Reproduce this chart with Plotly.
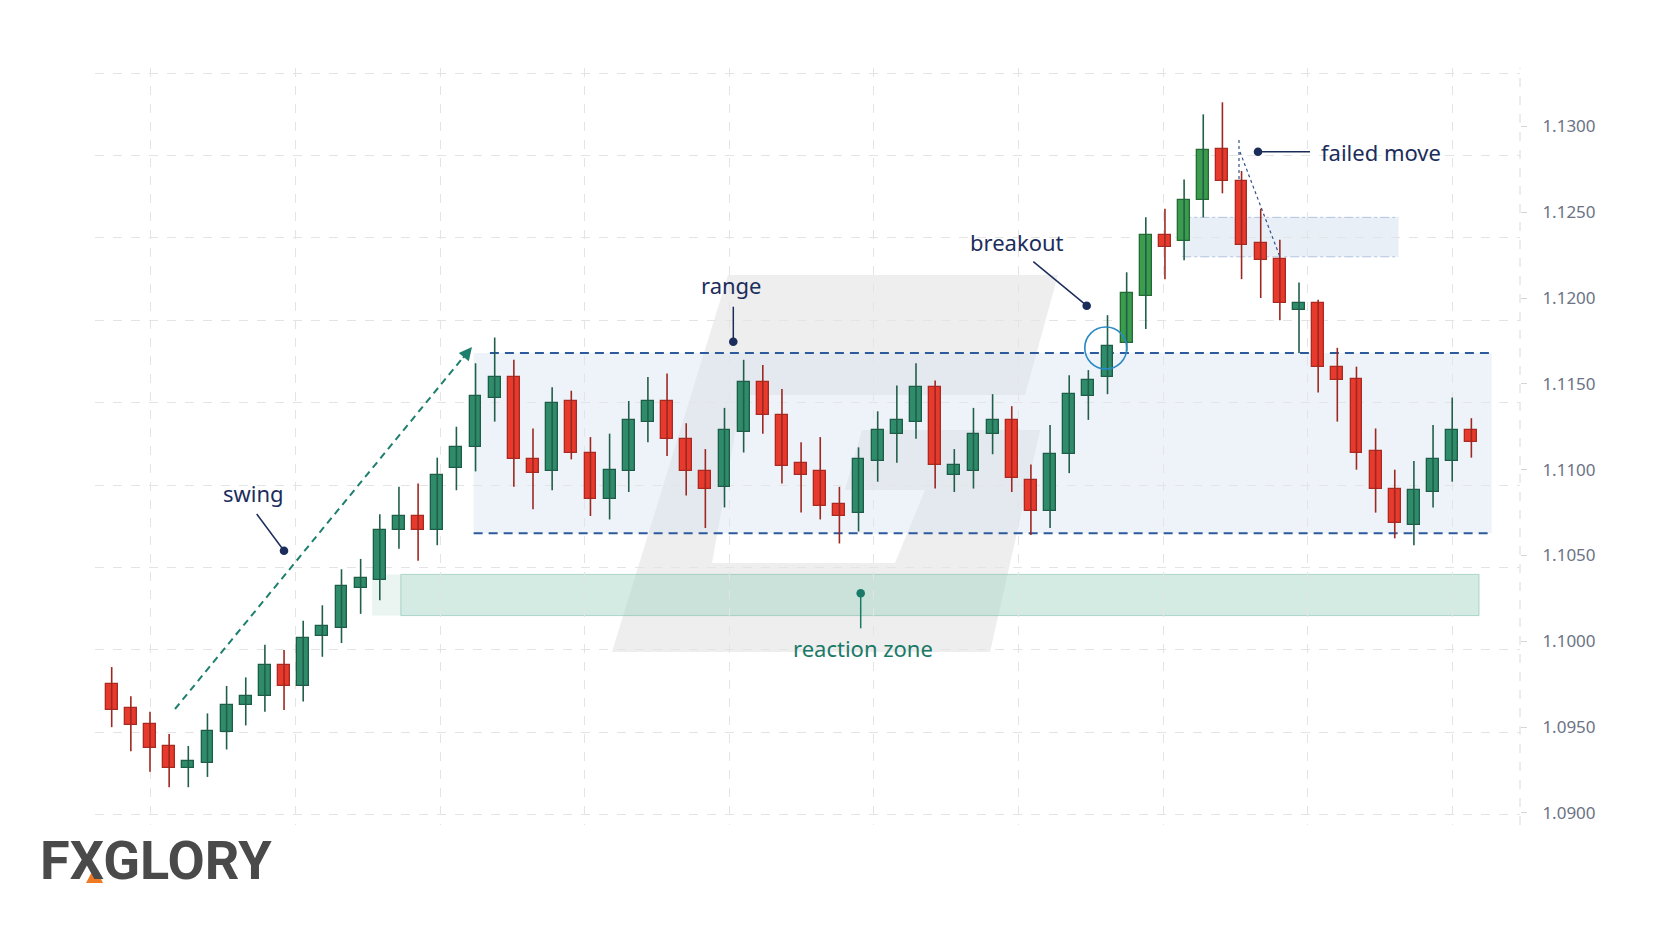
import plotly.graph_objects as go

# ---------------- data ----------------
opens = [1.0975, 1.0961, 1.0952, 1.0939, 1.0926, 1.0929, 1.0947, 1.0963, 1.0968, 1.0986,
         1.0974, 1.1003, 1.1008, 1.1031, 1.1036, 1.1065, 1.1073, 1.1065, 1.1101, 1.1113,
         1.1142, 1.1154, 1.1106, 1.1099, 1.1140, 1.1110, 1.1083, 1.1099, 1.1128, 1.1140,
         1.1118, 1.1099, 1.1090, 1.1122, 1.1151, 1.1132, 1.1104, 1.1099, 1.1080, 1.1075,
         1.1105, 1.1121, 1.1128, 1.1148, 1.1097, 1.1099, 1.1121, 1.1129, 1.1094, 1.1076,
         1.1109, 1.1143, 1.1154, 1.1174, 1.1201, 1.1237, 1.1233, 1.1257, 1.1287, 1.1268,
         1.1232, 1.1223, 1.1193, 1.1197, 1.1160, 1.1153, 1.1111, 1.1089, 1.1068, 1.1087,
         1.1105, 1.1123]
highs = [1.0985, 1.0968, 1.0959, 1.0946, 1.0939, 1.0958, 1.0974, 1.0979, 1.0998, 1.0995,
         1.1012, 1.1021, 1.1042, 1.1048, 1.1074, 1.1090, 1.1092, 1.1107, 1.1125, 1.1162,
         1.1177, 1.1164, 1.1124, 1.1148, 1.1146, 1.1119, 1.1121, 1.1140, 1.1154, 1.1156,
         1.1127, 1.1112, 1.1136, 1.1164, 1.1161, 1.1147, 1.1116, 1.1119, 1.1090, 1.1113,
         1.1134, 1.1149, 1.1162, 1.1152, 1.1112, 1.1136, 1.1144, 1.1137, 1.1103, 1.1126,
         1.1155, 1.1158, 1.1190, 1.1215, 1.1247, 1.1252, 1.1269, 1.1307, 1.1314, 1.1274,
         1.1252, 1.1234, 1.1209, 1.1199, 1.1171, 1.1160, 1.1124, 1.1100, 1.1105, 1.1126,
         1.1142, 1.1130]
lows = [1.0950, 1.0936, 1.0924, 1.0915, 1.0915, 1.0921, 1.0937, 1.0951, 1.0959, 1.0960,
        1.0965, 1.0991, 1.0999, 1.1016, 1.1024, 1.1054, 1.1047, 1.1056, 1.1088, 1.1099,
        1.1128, 1.1090, 1.1077, 1.1088, 1.1106, 1.1073, 1.1071, 1.1087, 1.1116, 1.1108,
        1.1085, 1.1066, 1.1078, 1.1110, 1.1121, 1.1092, 1.1075, 1.1071, 1.1057, 1.1064,
        1.1093, 1.1104, 1.1118, 1.1089, 1.1087, 1.1089, 1.1109, 1.1087, 1.1062, 1.1066,
        1.1098, 1.1129, 1.1144, 1.1169, 1.1182, 1.1211, 1.1222, 1.1247, 1.1261, 1.1211,
        1.1200, 1.1187, 1.1168, 1.1145, 1.1128, 1.1100, 1.1075, 1.1060, 1.1056, 1.1078,
        1.1093, 1.1107]
closes = [1.0960, 1.0951, 1.0938, 1.0926, 1.0930, 1.0948, 1.0963, 1.0968, 1.0986, 1.0974,
          1.1002, 1.1009, 1.1032, 1.1037, 1.1065, 1.1073, 1.1065, 1.1097, 1.1113, 1.1143,
          1.1154, 1.1106, 1.1098, 1.1139, 1.1110, 1.1083, 1.1100, 1.1129, 1.1140, 1.1118,
          1.1099, 1.1089, 1.1123, 1.1151, 1.1132, 1.1102, 1.1097, 1.1079, 1.1073, 1.1106,
          1.1123, 1.1129, 1.1148, 1.1103, 1.1103, 1.1121, 1.1129, 1.1095, 1.1076, 1.1109,
          1.1144, 1.1152, 1.1172, 1.1203, 1.1237, 1.1230, 1.1257, 1.1286, 1.1268, 1.1231,
          1.1222, 1.1197, 1.1197, 1.1160, 1.1152, 1.1110, 1.1089, 1.1069, 1.1088, 1.1106,
          1.1123, 1.1116]

y_tick_values = [1.0900, 1.0950, 1.1000, 1.1050, 1.1100, 1.1150, 1.1200, 1.1250, 1.1300]
y_tick_labels = ["1.0900", "1.0950", "1.1000", "1.1050", "1.1100", "1.1150", "1.1200", "1.1250", "1.1300"]

RANGE_HIGH, RANGE_LOW = 1.1168, 1.1063
REACTION_HIGH, REACTION_LOW = 1.1039, 1.1015
FAILED_HIGH, FAILED_LOW = 1.1247, 1.1224
breakout_candles = [53, 54, 55, 56, 57]   # brighter green bars

label_texts = ["swing", "range", "breakout", "failed move", "reaction zone"]
logo_text = "FXGLORY"

# ---------------- layout geometry ----------------
PAGE_OFF = 8                      # default body margin of the html page
W, H = 1664 - 2 * PAGE_OFF, 928 - 2 * PAGE_OFF
ML, MR, MT, MB = 87, 136, 60, 95
PW, PH = W - ML - MR, H - MT - MB
X_RANGE = [-0.872, 73.54]
Y_RANGE = [1.0893, 1.1334]


def xp(px):
    """page pixel x -> paper coordinate"""
    return (px - PAGE_OFF - ML) / PW


def yp(py):
    """page pixel y -> paper coordinate"""
    return (H - MB - (py - PAGE_OFF)) / PH


n = len(opens)
idx = list(range(n))

GREEN, GREEN_LINE, GREEN_WICK = "#2f8c6b", "#1d5c46", "#215f4a"
LIME, LIME_LINE = "#3a9c4c", "#236b32"
RED, RED_LINE, RED_WICK = "#e8392d", "#a92a21", "#9c2820"

fig = go.Figure()

# wicks
for up, col in ((True, GREEN_WICK), (False, RED_WICK)):
    xs, ys = [], []
    for i in idx:
        if (closes[i] >= opens[i]) == up:
            xs += [i, i, None]
            ys += [lows[i], highs[i], None]
    fig.add_trace(go.Scatter(x=xs, y=ys, mode="lines", line=dict(color=col, width=1.6),
                             hoverinfo="skip", showlegend=False))

# bodies
base, height, fills, lines = [], [], [], []
for i in idx:
    lo, hi = min(opens[i], closes[i]), max(opens[i], closes[i])
    base.append(lo)
    height.append(max(hi - lo, 0.00005))
    if closes[i] >= opens[i]:
        if i in breakout_candles:
            fills.append(LIME); lines.append(LIME_LINE)
        else:
            fills.append(GREEN); lines.append(GREEN_LINE)
    else:
        fills.append(RED); lines.append(RED_LINE)
fig.add_trace(go.Bar(x=idx, y=height, base=base, width=0.62,
                     marker=dict(color=fills, line=dict(color=lines, width=1.3)),
                     hoverinfo="skip", showlegend=False))

shapes = []

# mask the grid at the far left (grid starts a little inside the plot)
shapes.append(dict(type="rect", xref="paper", yref="paper", x0=0, x1=xp(120), y0=0, y1=1,
                   fillcolor="white", line=dict(width=0), layer="between"))

# watermark (large faint G)
wm = [(728, 275), (1058, 275), (1025, 395), (742, 395), (712, 563), (895, 563), (925, 490),
      (845, 490), (862, 430), (1040, 430), (990, 652), (612, 652)]
path = "M " + " L ".join(f"{xp(a):.4f},{yp(b):.4f}" for a, b in wm) + " Z"
shapes.append(dict(type="path", path=path, xref="paper", yref="paper", layer="below",
                   fillcolor="rgba(200,200,200,0.3)", line=dict(width=0)))

# range band
shapes.append(dict(type="rect", xref="x", yref="y", x0=18.9, x1=72.06, y0=RANGE_LOW, y1=RANGE_HIGH,
                   fillcolor="rgba(212,226,243,0.4)", line=dict(width=0), layer="below"))
shapes.append(dict(type="line", xref="x", yref="y", x0=19.75, x1=72.06, y0=RANGE_HIGH, y1=RANGE_HIGH,
                   line=dict(color="#2c5a9c", width=2, dash="9px,6px"), layer="between"))
shapes.append(dict(type="line", xref="x", yref="y", x0=18.9, x1=72.06, y0=RANGE_LOW, y1=RANGE_LOW,
                   line=dict(color="#2c5a9c", width=2, dash="9px,6px"), layer="between"))

# reaction zone
shapes.append(dict(type="rect", xref="x", yref="y", x0=13.6, x1=15.1, y0=REACTION_LOW, y1=REACTION_HIGH,
                   fillcolor="rgba(170,215,203,0.25)", line=dict(width=0), layer="below"))
shapes.append(dict(type="rect", xref="x", yref="y", x0=15.1, x1=71.4, y0=REACTION_LOW, y1=REACTION_HIGH,
                   fillcolor="rgba(160,210,196,0.45)", line=dict(color="rgba(120,188,170,0.55)", width=1),
                   layer="below"))

# failed move band
shapes.append(dict(type="rect", xref="x", yref="y", x0=55.9, x1=67.2, y0=FAILED_LOW, y1=FAILED_HIGH,
                   fillcolor="rgba(200,214,234,0.4)", line=dict(width=0), layer="below"))
for yy in (FAILED_LOW, FAILED_HIGH):
    shapes.append(dict(type="line", xref="x", yref="y", x0=55.9, x1=67.2, y0=yy, y1=yy,
                       line=dict(color="rgba(100,135,190,0.45)", width=1, dash="dashdot"), layer="below"))

# right axis dashed line
shapes.append(dict(type="line", xref="paper", yref="paper", x0=1, x1=1, y0=0, y1=1,
                   line=dict(color="#dadada", width=1, dash="dash"), layer="below"))

# swing arrow (dashed)
sx0, sy0, sx1, sy1 = 175, 709, 470, 349
shapes.append(dict(type="line", xref="paper", yref="paper", x0=xp(sx0), y0=yp(sy0), x1=xp(sx1), y1=yp(sy1),
                   line=dict(color="#1f7f6e", width=2, dash="7px,5px")))

# dotted "failed move" guides
shapes.append(dict(type="line", xref="paper", yref="paper", x0=xp(1239), x1=xp(1239), y0=yp(140), y1=yp(180),
                   line=dict(color="#34508a", width=1.2, dash="dot")))
shapes.append(dict(type="line", xref="paper", yref="paper", x0=xp(1240), x1=xp(1280), y0=yp(152), y1=yp(257),
                   line=dict(color="#34508a", width=1.2, dash="dot")))

# breakout circle
cx, cy, cr = 1105.8, 348, 21
shapes.append(dict(type="circle", xref="paper", yref="paper", x0=xp(cx - cr), x1=xp(cx + cr),
                   y0=yp(cy + cr), y1=yp(cy - cr), line=dict(color="#2a8ac4", width=1.6)))

# pointer lines and dots
NAVY, TEAL = "#1b2d5b", "#1a7a67"
pointers = [((256.7, 514), (284, 550.7), NAVY),
            ((733.3, 306.7), (733.3, 341.7), NAVY),
            ((1033.3, 261.7), (1086.7, 305.7), NAVY),
            ((1310, 151.7), (1258, 151.7), NAVY),
            ((860.7, 628.3), (860.7, 593.3), TEAL)]
for (a, b), (c, d), col in pointers:
    shapes.append(dict(type="line", xref="paper", yref="paper", x0=xp(a), y0=yp(b), x1=xp(c), y1=yp(d),
                       line=dict(color=col, width=1.5)))
    r = 4.3
    shapes.append(dict(type="circle", xref="paper", yref="paper", x0=xp(c - r), x1=xp(c + r),
                       y0=yp(d + r), y1=yp(d - r), fillcolor=col, line=dict(color=col, width=0)))

# logo accent
shapes.append(dict(type="path", xref="paper", yref="paper",
                   path=f"M {xp(86):.4f},{yp(883):.4f} L {xp(95):.4f},{yp(866):.4f} L {xp(103):.4f},{yp(883):.4f} Z",
                   fillcolor="#f07a22", line=dict(width=0)))

annotations = []
label_pos = [(253.3, 493.3, NAVY), (731.7, 285, NAVY), (1016.7, 241.7, NAVY),
             (1380.8, 151.7, NAVY), (863.3, 648.3, TEAL)]
for txt, (a, b, col) in zip(label_texts, label_pos):
    annotations.append(dict(text=txt, xref="paper", yref="paper", x=xp(a), y=yp(b),
                            xanchor="center", yanchor="middle", showarrow=False,
                            font=dict(family="Noto Sans", size=22, color=col)))

# swing arrow head
dxv, dyv = sx0 - sx1, sy0 - sy1
ln = (dxv ** 2 + dyv ** 2) ** 0.5
annotations.append(dict(text="", xref="paper", yref="paper", x=xp(sx1 + 2), y=yp(sy1 - 2),
                        ax=dxv / ln * 16, ay=dyv / ln * 16, showarrow=True,
                        arrowhead=2, arrowsize=1.3, arrowwidth=2, arrowcolor="#1f7f6e"))

annotations.append(dict(text=logo_text, xref="paper", yref="paper", x=xp(38), y=yp(860),
                        xanchor="left", yanchor="middle", showarrow=False,
                        font=dict(family="Roboto", size=54, color="#4a4a4a", weight="bold")))

fig.update_layout(
    width=W, height=H,
    margin=dict(l=ML, r=MR, t=MT, b=MB, pad=0),
    paper_bgcolor="white", plot_bgcolor="white",
    showlegend=False, bargap=0,
    shapes=shapes, annotations=annotations,
    xaxis=dict(range=X_RANGE, showticklabels=False, ticks="", tickmode="linear", tick0=2.05, dtick=7.55,
               showgrid=True, gridcolor="#e4e4e4", griddash="dash", gridwidth=1,
               zeroline=False, showline=False, fixedrange=True),
    yaxis=dict(range=Y_RANGE, side="right", tickmode="array", tickvals=y_tick_values, ticktext=y_tick_labels,
               showgrid=False, zeroline=False, showline=False,
               ticks="outside", ticklen=6, tickcolor="#d5d5d5", ticklabelstandoff=12,
               tickfont=dict(family="Noto Sans", size=17, color="#6b7385"),
               minor=dict(tickmode="linear", tick0=1.0899, dtick=0.0048, showgrid=True,
                          gridcolor="#e4e4e4", griddash="dash", gridwidth=1, ticks=""),
               fixedrange=True),
)

fig.write_html("out.html")
